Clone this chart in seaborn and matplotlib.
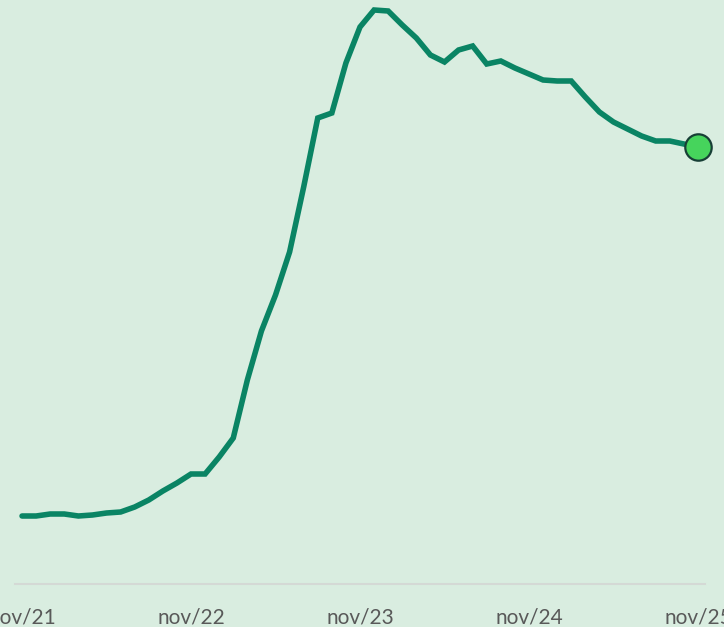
import numpy as np
import pandas as pd
import matplotlib
matplotlib.use("Agg")
import matplotlib.pyplot as plt
import seaborn as sns

# monthly series, nov/21 .. nov/25 (arbitrary units)
months = pd.date_range("2021-11-01", "2025-11-01", freq="MS")
values = [68, 68, 70, 70, 68, 69, 71, 72, 77, 84,
          93, 101, 110, 110, 127, 146, 204, 253, 289, 332,
          397, 466, 471, 521, 557, 574, 573, 559, 546, 529,
          522, 534, 538, 520, 523, 516, 510, 504, 503, 503,
          487, 472, 462, 455, 448, 443, 443, 440, 437]
tick_months = [0, 12, 24, 36, 48]
tick_labels = ["nov/21", "nov/22", "nov/23", "nov/24", "nov/25"]

bg = "#d9ede0"
line_col = "#0a8464"

df = pd.DataFrame({"mes": np.arange(len(months)), "valor": values})

sns.set_theme(style="white")
plt.rcParams["font.family"] = ["Lato", "DejaVu Sans"]

fig = plt.figure(figsize=(7.24, 6.27), dpi=100, facecolor=bg)
ax = fig.add_axes([15 / 724, 43 / 627, 690 / 724, 584 / 627])
ax.set_facecolor(bg)

sns.lineplot(data=df, x="mes", y="valor", ax=ax, color=line_col,
             linewidth=4, solid_joinstyle="miter", solid_capstyle="round")
last = df.iloc[[-1]]
ax.plot(last["mes"], last["valor"], "o", markersize=19,
        markerfacecolor="#46d45c", markeredgecolor="#173f36",
        markeredgewidth=1.6, zorder=5, clip_on=False)

ax.set_xlim(-0.5, 48.5)
ax.set_ylim(0, 584)
ax.set_xticks(tick_months)
ax.set_xticklabels(tick_labels, fontsize=15, color="#595959")
ax.tick_params(axis="x", length=0, pad=17)
ax.set_yticks([])
ax.set_xlabel("")
ax.set_ylabel("")
for s in ["top", "right", "left"]:
    ax.spines[s].set_visible(False)
ax.spines["bottom"].set_color("#d4d9d5")
ax.spines["bottom"].set_linewidth(1.5)

fig.savefig("out.png", dpi=100, facecolor=bg)
